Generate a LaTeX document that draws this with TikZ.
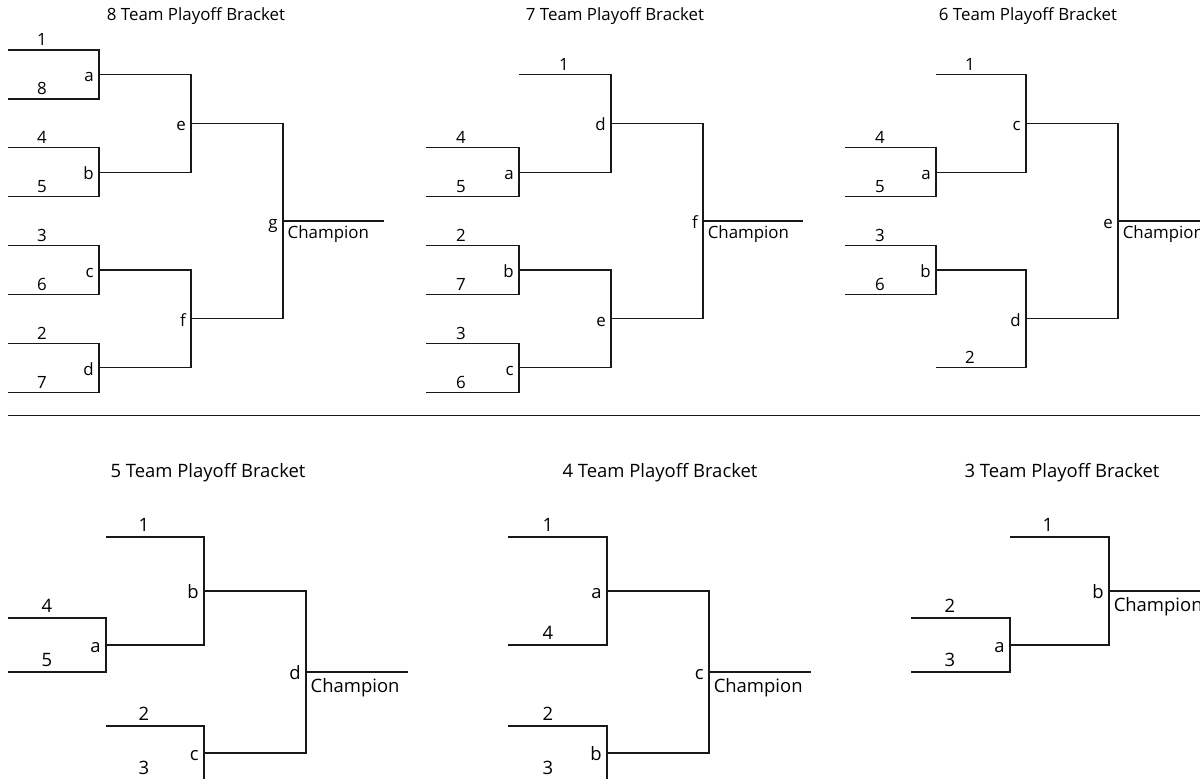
\documentclass[tikz,border=0pt]{standalone}
\usepackage{fontspec}
\setmainfont{Open Sans}
\usetikzlibrary{calc}
\def\fsz{9.6}
\def\sdy{2.3pt}
\def\chdy{-10pt}
\tikzset{
  bline/.style={line width=0.7pt, draw=black!90},
  seed/.style={anchor=base, inner sep=0pt, text=black, font=\fontsize{\fsz}{\fsz}\selectfont, yshift=\sdy},
  slot/.style={anchor=base east, inner sep=0pt, text=black, font=\fontsize{\fsz}{\fsz}\selectfont, xshift=-2.8pt, yshift=-4.2pt},
  champ/.style={anchor=base west, inner sep=0pt, text=black, font=\fontsize{\fsz}{\fsz}\selectfont, xshift=2.5pt, yshift=\chdy},
  title/.style={anchor=base, inner sep=0pt, text=black, font=\fontsize{\fsz}{\fsz}\selectfont}
}
% one "]" of a bracket: name (left x, joint x)(top y, bottom y){letter}
\def\bracket#1(#2,#3)(#4,#5)#6{%
  \draw[bline] (#2,#4) -- (#3,#4) -- (#3,#5) -- (#2,#5);
  \coordinate (#1) at (#3,{(#4+#5)/2});
  \node[slot] (#1-l) at (#1) {#6};}
\begin{document}
\begin{tikzpicture}[x=0.02cm, y=-0.02cm]
		\useasboundingbox (0,0) rectangle (1200,778);
		\clip (0,0) rectangle (1200,778);
		%%%%% TOP ROW %%%%%
		
		% 8 teams
		\node[title] (p8t) at (196,20) {8 Team Playoff Bracket};
		\bracket p8a(8,99)(50,98.9){a}
		\bracket p8b(8,99)(147.7,196.6){b}
		\bracket p8c(8,99)(245.5,294.4){c}
		\bracket p8d(8,99)(343.3,392.2){d}
		\bracket p8e(99,191)(74.45,172.15){e}
		\bracket p8f(99,191)(269.95,367.75){f}
		\bracket p8g(191,283)(123.3,318.85){g}
		\draw[bline] (p8g) -- ++(101,0) coordinate (p8end);
		\node[champ] (p8ch) at (p8g) {Champion};
		\node[seed] (p8s1) at (42,50) {1};
		\node[seed] (p8s8) at (42,98.9) {8};
		\node[seed] (p8s4) at (42,147.7) {4};
		\node[seed] (p8s5) at (42,196.6) {5};
		\node[seed] (p8s3) at (42,245.5) {3};
		\node[seed] (p8s6) at (42,294.4) {6};
		\node[seed] (p8s2) at (42,343.3) {2};
		\node[seed] (p8s7) at (42,392.2) {7};
		
		% 7 teams
		\node[title] (p7t) at (615,20) {7 Team Playoff Bracket};
		\bracket p7a(426,519)(147.7,196.6){a}
		\bracket p7b(426,519)(245.5,294.4){b}
		\bracket p7c(426,519)(343.3,392.2){c}
		\bracket p7d(519,611)(74.45,172.15){d}
		\bracket p7e(519,611)(269.95,367.75){e}
		\bracket p7f(611,703)(123.3,318.85){f}
		\draw[bline] (p7f) -- ++(100,0) coordinate (p7end);
		\node[champ] (p7ch) at (p7f) {Champion};
		\node[seed] (p7s1) at (564,74.45) {1};
		\node[seed] (p7s4) at (461,147.7) {4};
		\node[seed] (p7s5) at (461,196.6) {5};
		\node[seed] (p7s2) at (461,245.5) {2};
		\node[seed] (p7s7) at (461,294.4) {7};
		\node[seed] (p7s3) at (461,343.3) {3};
		\node[seed] (p7s6) at (461,392.2) {6};
		
		% 6 teams
		\node[title] (p6t) at (1028,20) {6 Team Playoff Bracket};
		\bracket p6a(845,936)(147.7,196.6){a}
		\bracket p6b(845,936)(245.5,294.4){b}
		\bracket p6c(936,1026)(74.45,172.15){c}
		\bracket p6d(936,1026)(269.95,367.75){d}
		\bracket p6e(1026,1118)(123.3,318.85){e}
		\draw[bline] (p6e) -- ++(100,0) coordinate (p6end);
		\node[champ] (p6ch) at (p6e) {Champion};
		\node[seed] (p6s1) at (970,74.45) {1};
		\node[seed] (p6s4) at (880,147.7) {4};
		\node[seed] (p6s5) at (880,196.6) {5};
		\node[seed] (p6s3) at (880,245.5) {3};
		\node[seed] (p6s6) at (880,294.4) {6};
		\node[seed] (p6s2) at (970,367.75) {2};
		
		% divider
		\coordinate (sepL) at (8,415.7);
		\coordinate (sepR) at (1200,415.7);
		\draw[bline] (sepL) -- (sepR);
		
		%%%%% BOTTOM ROW %%%%%
		\def\fsz{10.5}
		\def\sdy{3.3pt}
		\def\chdy{-11.7pt}
		
		% 5 teams
		\node[title] (p5t) at (208,477) {5 Team Playoff Bracket};
		\bracket p5a(8,106)(618,672){a}
		\bracket p5b(106,204)(537,645){b}
		\bracket p5c(106,204)(726,780){c}
		\bracket p5d(204,306)(591,753){d}
		\draw[bline] (p5d) -- ++(102,0) coordinate (p5end);
		\node[champ] (p5ch) at (p5d) {Champion};
		\node[seed] (p5s1) at (144,537) {1};
		\node[seed] (p5s4) at (47,618) {4};
		\node[seed] (p5s5) at (47,672) {5};
		\node[seed] (p5s2) at (144,726) {2};
		\node[seed] (p5s3) at (144,780) {3};
		
		% 4 teams
		\node[title] (p4t) at (660,477) {4 Team Playoff Bracket};
		\bracket p4a(508,607)(537,645){a}
		\bracket p4b(508,607)(726,780){b}
		\bracket p4c(607,709)(591,753){c}
		\draw[bline] (p4c) -- ++(102,0) coordinate (p4end);
		\node[champ] (p4ch) at (p4c) {Champion};
		\node[seed] (p4s1) at (548,537) {1};
		\node[seed] (p4s4) at (548,645) {4};
		\node[seed] (p4s2) at (548,726) {2};
		\node[seed] (p4s3) at (548,780) {3};
		
		% 3 teams
		\node[title] (p3t) at (1062,477) {3 Team Playoff Bracket};
		\bracket p3a(911,1010)(618,672){a}
		\bracket p3b(1010,1109)(537,645){b}
		\draw[bline] (p3b) -- ++(102,0) coordinate (p3end);
		\node[champ] (p3ch) at (p3b) {Champion};
		\node[seed] (p3s1) at (1048,537) {1};
		\node[seed] (p3s2) at (950,618) {2};
		\node[seed] (p3s3) at (950,672) {3};
		
\end{tikzpicture}
\end{document}
